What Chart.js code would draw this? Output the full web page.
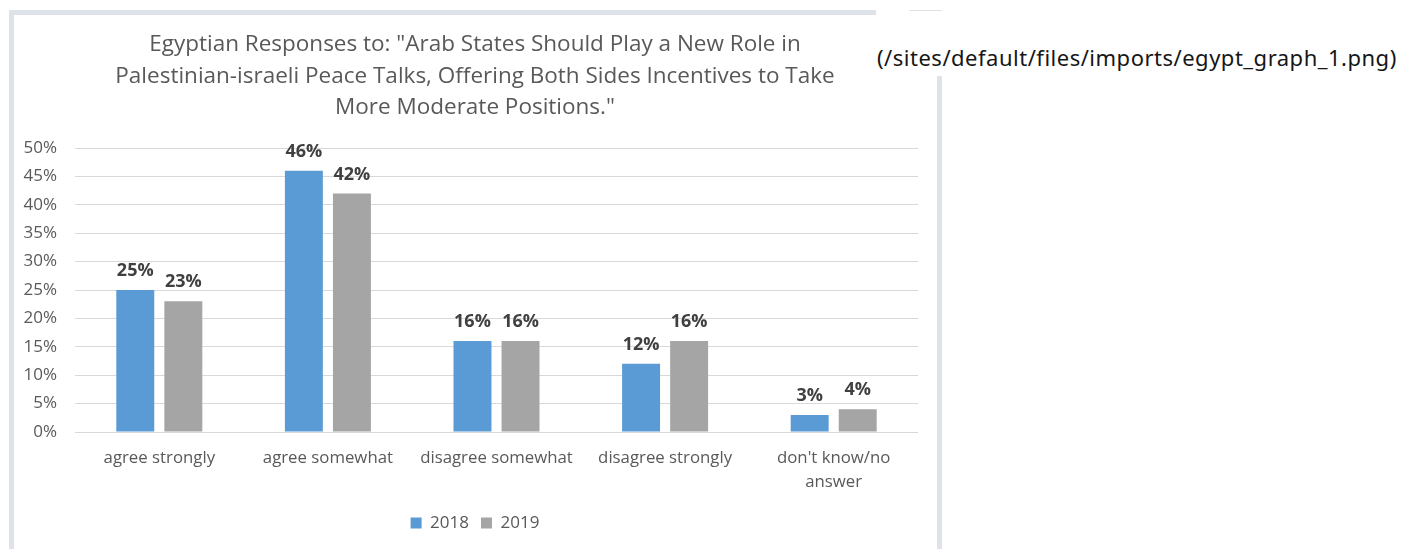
<!DOCTYPE html>
<html>
<head>
<meta charset="utf-8">
<script src="https://cdn.jsdelivr.net/npm/chart.js@4.4.1/dist/chart.umd.min.js"></script>
<style>
  html, body { margin: 0; padding: 0; background: #fff; }
  body { width: 1404px; height: 549px; position: relative; overflow: hidden; }
  .frame {
    position: absolute; left: 9px; top: 10px; width: 933px; height: 600px;
    box-sizing: border-box; border: 5px solid #dde3e8; border-bottom: none;
  }
  .chart-box { position: absolute; left: 0; top: 0; width: 950px; height: 549px; }
  .src-link {
    position: absolute; left: 876px; top: 0; width: 528px; height: 76px;
    background: #fff; font-family: "Noto Sans", sans-serif; font-size: 22px;
    letter-spacing: 0.5px; color: #161616; line-height: 22px; white-space: nowrap;
  }
  .src-link span { position: absolute; left: 1px; top: 46px; }
  .tick-line { position: absolute; left: 909px; top: 10px; width: 33px; height: 1px; background: #dfe3e6; }
</style>
</head>
<body>
<div class="frame"></div>
<div class="chart-box"><canvas id="chart" width="950" height="549"></canvas></div>
<div class="src-link"><span>(/sites/default/files/imports/egypt_graph_1.png)</span></div>
<div class="tick-line"></div>
<script>
// survey answers, one group of bars per answer
const categories = [
  'agree strongly',
  'agree somewhat',
  'disagree somewhat',
  'disagree strongly',
  ["don't know/no", 'answer']
];
const seriesNames = ['2018', '2019'];
const values2018 = [25, 46, 16, 12, 3];
const values2019 = [23, 42, 16, 16, 4];
const yTicks = [0, 5, 10, 15, 20, 25, 30, 35, 40, 45, 50];

const titleLines = [
  'Egyptian Responses to: "Arab States Should Play a New Role in',
  'Palestinian-israeli Peace Talks, Offering Both Sides Incentives to Take',
  'More Moderate Positions."'
];

const FONT = '"Open Sans", sans-serif';
const TEXT = '#595959';

// percent labels above each bar
const barLabels = {
  id: 'barLabels',
  afterDatasetsDraw(chart) {
    const ctx = chart.ctx;
    ctx.save();
    ctx.font = 'bold 18px ' + FONT;
    ctx.fillStyle = '#404040';
    ctx.textAlign = 'center';
    ctx.textBaseline = 'middle';
    chart.data.datasets.forEach((ds, i) => {
      chart.getDatasetMeta(i).data.forEach((bar, j) => {
        ctx.fillText(ds.data[j] + '%', bar.x, bar.y - 19);
      });
    });
    ctx.restore();
  }
};

new Chart(document.getElementById('chart'), {
  type: 'bar',
  data: {
    labels: categories,
    datasets: [
      { label: seriesNames[0], data: values2018, backgroundColor: '#5b9bd5' },
      { label: seriesNames[1], data: values2019, backgroundColor: '#a5a5a5' }
    ]
  },
  options: {
    responsive: false,
    animation: false,
    events: [],
    layout: { padding: { left: 0, right: 0, top: 0, bottom: 7.5 } },
    datasets: { bar: { categoryPercentage: 0.57, barPercentage: 0.79 } },
    scales: {
      x: {
        grid: { display: false },
        border: { display: false },
        ticks: { color: TEXT, font: { family: FONT, size: 16.8, lineHeight: 24 / 16.8 }, padding: 6, maxRotation: 0 },
        afterFit(scale) { scale.height = 70.5; }
      },
      y: {
        min: 0,
        max: 50,
        afterBuildTicks(scale) { scale.ticks = yTicks.map(v => ({ value: v })); },
        grid: { color: '#d9d9d9', lineWidth: 1, drawTicks: false },
        border: { display: false },
        ticks: { color: TEXT, font: { family: FONT, size: 17 }, padding: 18, callback: v => v + '%' },
        afterFit(scale) { scale.width = 75; }
      },
      // empty right-hand axis, keeps the plot clear of the right edge
      yRight: {
        position: 'right',
        grid: { display: false },
        border: { display: false },
        ticks: { display: false },
        afterFit(scale) { scale.width = 32; }
      }
    },
    plugins: {
      title: {
        display: true,
        text: titleLines,
        color: TEXT,
        font: { family: FONT, size: 22.5, weight: 'normal', lineHeight: 31.5 / 22.5 },
        padding: { top: 29.25, bottom: 24.25 }
      },
      legend: {
        position: 'bottom',
        labels: { color: TEXT, font: { family: FONT, size: 17 }, boxWidth: 11, boxHeight: 11, padding: 12 }
      },
      tooltip: { enabled: false }
    }
  },
  plugins: [barLabels]
});
</script>
</body>
</html>
